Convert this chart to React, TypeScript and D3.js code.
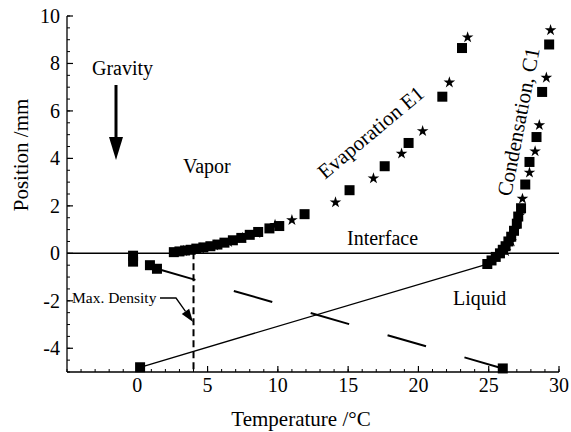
import React from "react";
import * as d3 from "d3";

const W = 571;
const H = 432;

// Evaporation E1 (squares and stars): [temperature °C, position mm]
const e1Squares: [number, number][] = [
  [2.6, 0.05], [3.0, 0.08], [3.4, 0.12], [3.8, 0.15], [4.2, 0.2], [4.7, 0.25],
  [5.2, 0.3], [5.7, 0.37], [6.2, 0.45], [6.8, 0.55], [7.4, 0.65], [8.0, 0.78],
  [8.6, 0.9], [9.4, 1.05], [10.1, 1.15], [11.9, 1.65], [15.1, 2.66],
  [17.6, 3.67], [19.3, 4.65], [21.7, 6.6], [23.1, 8.65],
];
const e1Stars: [number, number][] = [
  [3.3, 0.1], [4.5, 0.2], [5.5, 0.33], [6.5, 0.48], [7.5, 0.65], [8.5, 0.85],
  [9.8, 1.2], [11.0, 1.4], [14.1, 2.15], [16.8, 3.16], [18.8, 4.2],
  [20.3, 5.15], [22.2, 7.2], [23.5, 9.1],
];
// Condensation C1
const c1Squares: [number, number][] = [
  [24.9, -0.45], [25.2, -0.3], [25.5, -0.15], [25.8, 0.0], [26.0, 0.15],
  [26.2, 0.3], [26.4, 0.5], [26.6, 0.7], [26.8, 0.95], [27.0, 1.25],
  [27.1, 1.55], [27.3, 1.9], [27.6, 2.9], [27.9, 3.85], [28.4, 4.9],
  [28.8, 6.8], [29.3, 8.8],
];
const c1Stars: [number, number][] = [
  [26.2, 0.1], [26.6, 0.5], [26.9, 1.0], [27.2, 1.6], [27.4, 2.3],
  [27.9, 3.4], [28.3, 4.3], [28.6, 5.4], [29.1, 7.4], [29.4, 9.4],
];
// Initial / other squares
const otherSquares: [number, number][] = [
  [-0.3, -0.1], [-0.3, -0.35], [0.9, -0.5], [1.4, -0.65], [0.2, -4.8], [26.0, -4.85],
];
// Solid line and long-dashed line
const solidLine: [number, number][] = [[0.2, -4.8], [24.9, -0.45]];
const dashedLine: [number, number][] = [[1.4, -0.65], [26.0, -4.85]];
const maxDensityT = 4;

const xTicks = [0, 5, 10, 15, 20, 25, 30];
const yTicks = [-4, -2, 0, 2, 4, 6, 8, 10];

const FONT = "'Liberation Serif', 'Times New Roman', serif";

export default function App() {
  const x = d3.scaleLinear().domain([-5, 30]).range([67, 559]);
  const y = d3.scaleLinear().domain([-5, 10]).range([372, 16]);
  const line = d3.line<[number, number]>().x((d) => x(d[0])).y((d) => y(d[1]));
  const star = d3.symbol().type(d3.symbolStar).size(42)() as string;
  const sq = 10;

  const xMinor = d3.range(-5, 30.01, 1);
  const yMinor = d3.range(-5, 10.01, 0.5);

  const squares = [...e1Squares, ...c1Squares, ...otherSquares];
  const stars = [...e1Stars, ...c1Stars];

  // max density arrow geometry
  const tip = [193, 322];
  const from = [176, 298];
  const dx = tip[0] - from[0], dy = tip[1] - from[1];
  const len = Math.hypot(dx, dy);
  const ux = dx / len, uy = dy / len;
  const hl = 13, hw = 4.5;
  const bx = tip[0] - ux * hl, by = tip[1] - uy * hl;
  const head = `M${tip[0]},${tip[1]} L${bx - uy * hw},${by + ux * hw} L${bx + uy * hw},${by - ux * hw} Z`;

  return (
    <svg width={W} height={H} style={{ position: "absolute", left: 0, top: 0, background: "#fff" }} fontFamily={FONT}>
      <rect width={W} height={H} fill="#fff" />
      {/* axes */}
      <line x1={x(-5)} x2={x(-5)} y1={y(10)} y2={y(-5)} stroke="#000" strokeWidth={1.3} />
      <line x1={x(-5)} x2={x(30)} y1={y(-5)} y2={y(-5)} stroke="#000" strokeWidth={1.3} />
      {xMinor.map((t) => (
        <line key={"xm" + t} x1={x(t)} x2={x(t)} y1={y(-5)} y2={y(-5) - 3} stroke="#000" strokeWidth={1} />
      ))}
      {xTicks.map((t) => (
        <g key={"x" + t}>
          <line x1={x(t)} x2={x(t)} y1={y(-5)} y2={y(-5) - 6} stroke="#000" strokeWidth={1.2} />
          <text x={x(t)} y={392} fontSize={20} textAnchor="middle">{t}</text>
        </g>
      ))}
      {yMinor.map((t) => (
        <line key={"ym" + t} x1={x(-5)} x2={x(-5) + 3} y1={y(t)} y2={y(t)} stroke="#000" strokeWidth={1} />
      ))}
      {yTicks.map((t) => (
        <g key={"y" + t}>
          <line x1={x(-5)} x2={x(-5) + 6} y1={y(t)} y2={y(t)} stroke="#000" strokeWidth={1.2} />
          <text x={60} y={y(t) + 7} fontSize={20} textAnchor="end">{t}</text>
        </g>
      ))}
      <text x={301} y={426} fontSize={21} textAnchor="middle">Temperature /°C</text>
      <text transform={`translate(28,155) rotate(-90)`} fontSize={21} textAnchor="middle">Position /mm</text>

      {/* interface */}
      <line x1={x(-5)} x2={x(30)} y1={y(0)} y2={y(0)} stroke="#000" strokeWidth={1.5} />
      {/* max density vertical dashed */}
      <line x1={x(maxDensityT)} x2={x(maxDensityT)} y1={y(0.05)} y2={y(-5)} stroke="#000" strokeWidth={2} strokeDasharray="7,4" />
      {/* lines */}
      <path d={line(solidLine) as string} fill="none" stroke="#000" strokeWidth={1.3} />
      <path d={line(dashedLine) as string} fill="none" stroke="#000" strokeWidth={2} strokeDasharray="40,40" />

      {/* markers */}
      {squares.map((d, i) => (
        <rect key={"s" + i} x={x(d[0]) - sq / 2} y={y(d[1]) - sq / 2} width={sq} height={sq} fill="#000" />
      ))}
      {stars.map((d, i) => (
        <path key={"st" + i} d={star} transform={`translate(${x(d[0])},${y(d[1])})`} fill="#000" />
      ))}

      {/* annotations */}
      <text x={92} y={75} fontSize={20}>Gravity</text>
      <line x1={116} x2={116} y1={85} y2={140} stroke="#000" strokeWidth={3} />
      <path d="M109,137 L123,137 L116,160 Z" fill="#000" />
      <text x={183} y={173} fontSize={20}>Vapor</text>
      <text x={347} y={245} fontSize={20}>Interface</text>
      <text x={453} y={305} fontSize={20}>Liquid</text>
      <text x={72} y={303} fontSize={15.5}>Max. Density</text>
      <path d={`M160,298 L${from[0]},${from[1]} L${bx},${by}`} fill="none" stroke="#000" strokeWidth={1.3} />
      <path d={head} fill="#000" />
      <text transform="translate(325,180) rotate(-40)" fontSize={21}>Evaporation E1</text>
      <text transform="translate(511,197) rotate(-79)" fontSize={21}>Condensation, C1</text>
    </svg>
  );
}
